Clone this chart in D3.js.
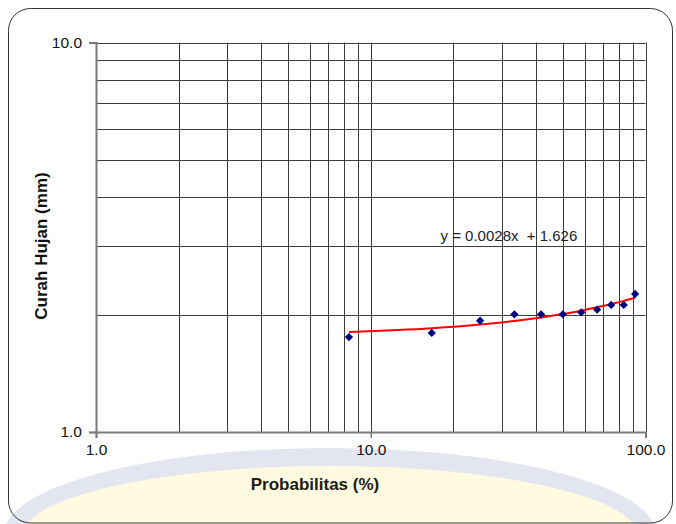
<!DOCTYPE html>
<html>
<head>
<meta charset="utf-8">
<script src="https://cdn.jsdelivr.net/npm/d3@7"></script>
<style>
  body { margin: 0; background: #fff; }
  svg { display: block; font-family: "Liberation Sans", Arial, sans-serif; }
</style>
</head>
<body>
<script>

const width = 676;
const height = 524;

// probabilities (%) and rainfall
const probabilitas = [8.33, 16.67, 25, 33.33, 41.67, 50, 58.33, 66.67, 75, 83.33, 91.67];
const curahHujan = [1.753, 1.796, 1.931, 2.005, 2.005, 2.005, 2.029, 2.061, 2.119, 2.119, 2.262];
// red trend line as drawn
const trendHujan = [1.806, 1.846, 1.887, 1.927, 1.968, 2.009, 2.049, 2.090, 2.130, 2.171, 2.212];
const trendLabel = "y = 0.0028x  + 1.626";

const xDomain = [1, 100];
const yDomain = [1, 10];
const xTickLabels = [1, 10, 100];
const yTickLabels = [1, 10];

const plot = {left: 96, right: 645.5, top: 42.5, bottom: 432};

const svg = d3.select("body").append("svg")
  .attr("width", width)
  .attr("height", height);

// watermark behind everything
const wm = svg.append("g");
wm.append("ellipse")
  .attr("cx", 330).attr("cy", 534).attr("rx", 326).attr("ry", 86)
  .attr("fill", "#e3e5f1");
wm.append("ellipse")
  .attr("cx", 330).attr("cy", 536).attr("rx", 308).attr("ry", 70)
  .attr("fill", "#fffae0");

// chart frame
svg.append("rect")
  .attr("x", 8.5).attr("y", 8.5)
  .attr("width", 664).attr("height", 514.5)
  .attr("rx", 22).attr("ry", 22)
  .attr("fill", "none")
  .attr("stroke", "#333")
  .attr("stroke-width", 1);

const x = d3.scaleLog().domain(xDomain).range([plot.left, plot.right]);
const y = d3.scaleLog().domain(yDomain).range([plot.bottom, plot.top]);

svg.append("rect")
  .attr("x", plot.left).attr("y", plot.top)
  .attr("width", plot.right - plot.left).attr("height", plot.bottom - plot.top)
  .attr("fill", "#fff");

// grid
const snap = v => Math.round(v) + 0.5;
svg.append("g").selectAll("line")
  .data(x.ticks())
  .join("line")
    .attr("x1", d => snap(x(d))).attr("x2", d => snap(x(d)))
    .attr("y1", plot.top).attr("y2", plot.bottom)
    .attr("stroke", "#3c3c3c");

svg.append("g").selectAll("line")
  .data(y.ticks())
  .join("line")
    .attr("y1", d => snap(y(d))).attr("y2", d => snap(y(d)))
    .attr("x1", plot.left).attr("x2", plot.right)
    .attr("stroke", "#3c3c3c");

// axes
const xAxis = d3.axisBottom(x).tickValues(xTickLabels).tickSize(6).tickPadding(6)
  .tickFormat(d3.format(".1f"));
const yAxis = d3.axisLeft(y).tickValues(yTickLabels).tickSize(7).tickPadding(7)
  .tickFormat(d3.format(".1f"));

const gx = svg.append("g").attr("transform", `translate(0,${plot.bottom})`).call(xAxis);
const gy = svg.append("g").attr("transform", `translate(${plot.left},0)`).call(yAxis);
[gx, gy].forEach(g => {
  g.select(".domain").attr("stroke", "#7a7a7a").attr("stroke-width", 2);
  g.selectAll(".tick line").attr("stroke", "#7a7a7a").attr("stroke-width", 1.5);
  g.selectAll("text").attr("font-size", 15.5).attr("fill", "#111")
    .style("font-family", "'Liberation Sans', Arial, sans-serif");
});
gy.selectAll("text").attr("x", -14);

// trend line
const line = d3.line()
  .x((d, i) => x(probabilitas[i]))
  .y(d => y(d))
  .curve(d3.curveMonotoneX);

svg.append("path")
  .datum(trendHujan)
  .attr("d", line)
  .attr("fill", "none")
  .attr("stroke", "#ff0000")
  .attr("stroke-width", 2);

// data points (diamonds)
const diamond = d3.symbol().type(d3.symbolSquare).size(34);
svg.append("g").selectAll("path")
  .data(curahHujan)
  .join("path")
    .attr("d", diamond)
    .attr("transform", (d, i) => `translate(${x(probabilitas[i])},${y(d)}) rotate(45)`)
    .attr("fill", "#000080");

// trend equation
svg.append("text")
  .attr("x", 440.5).attr("y", 240.5)
  .attr("font-size", 15)
  .attr("fill", "#222")
  .style("white-space", "pre")
  .text(trendLabel);

// axis titles
svg.append("text")
  .attr("x", 315).attr("y", 490)
  .attr("text-anchor", "middle")
  .attr("font-size", 17)
  .attr("font-weight", "bold")
  .attr("fill", "#1c1c10")
  .text("Probabilitas (%)");

svg.append("text")
  .attr("transform", "translate(47,246) rotate(-90)")
  .attr("text-anchor", "middle")
  .attr("font-size", 17)
  .attr("font-weight", "bold")
  .attr("fill", "#111")
  .text("Curah Hujan (mm)");

</script>
</body>
</html>
